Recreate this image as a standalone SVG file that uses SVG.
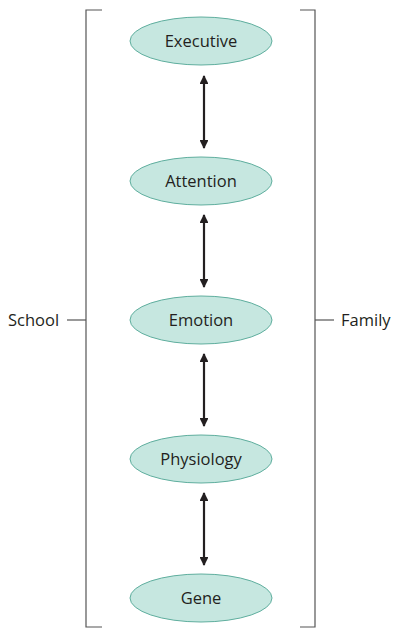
<svg xmlns="http://www.w3.org/2000/svg" width="400" height="638" viewBox="0 0 400 638">
<defs>
<marker id="ah" viewBox="0 0 10 10" refX="9" refY="5" markerWidth="4" markerHeight="4" orient="auto-start-reverse" markerUnits="strokeWidth">
<path d="M0,0 L10,5 L0,10 z" fill="#231f20"/>
</marker>
<style>
.node ellipse{fill:#c6e7e0;stroke:#5fae9e;stroke-width:1}
.lbl{font-family:"Open Sans","Liberation Sans",sans-serif;font-size:16.5px;fill:#231f20;text-anchor:middle}
.side{font-family:"Open Sans","Liberation Sans",sans-serif;font-size:16.5px;fill:#231f20}
.br{fill:none;stroke:#555;stroke-width:1.2}
.arr{stroke:#231f20;stroke-width:2.2;fill:none;marker-start:url(#ah);marker-end:url(#ah)}
</style>
</defs>
<rect width="400" height="638" fill="#fff"/>
<g id="brackets">
<path class="br" d="M102,10 H86 V627 H102"/>
<path class="br" d="M300,10 H315 V627 H300"/>
<path class="br" d="M67,320 H86"/>
<path class="br" d="M315,320 H334"/>
</g>
<g id="school"><text class="side" x="8" y="326">School</text></g>
<g id="family"><text class="side" x="341" y="326">Family</text></g>
<g id="connectors">
<line class="arr" x1="204" y1="76" x2="204" y2="148"/>
<line class="arr" x1="204" y1="215" x2="204" y2="287"/>
<line class="arr" x1="204" y1="354" x2="204" y2="426"/>
<line class="arr" x1="204" y1="493" x2="204" y2="565"/>
</g>
<g id="executive" class="node"><ellipse cx="201" cy="41" rx="71" ry="24"/><text class="lbl" x="201" y="47">Executive</text></g>
<g id="attention" class="node"><ellipse cx="201" cy="181" rx="71" ry="24"/><text class="lbl" x="201" y="187">Attention</text></g>
<g id="emotion" class="node"><ellipse cx="201" cy="320" rx="71" ry="24"/><text class="lbl" x="201" y="326">Emotion</text></g>
<g id="physiology" class="node"><ellipse cx="201" cy="459" rx="71" ry="24"/><text class="lbl" x="201" y="465">Physiology</text></g>
<g id="gene" class="node"><ellipse cx="201" cy="598" rx="71" ry="24"/><text class="lbl" x="201" y="604">Gene</text></g>
</svg>
